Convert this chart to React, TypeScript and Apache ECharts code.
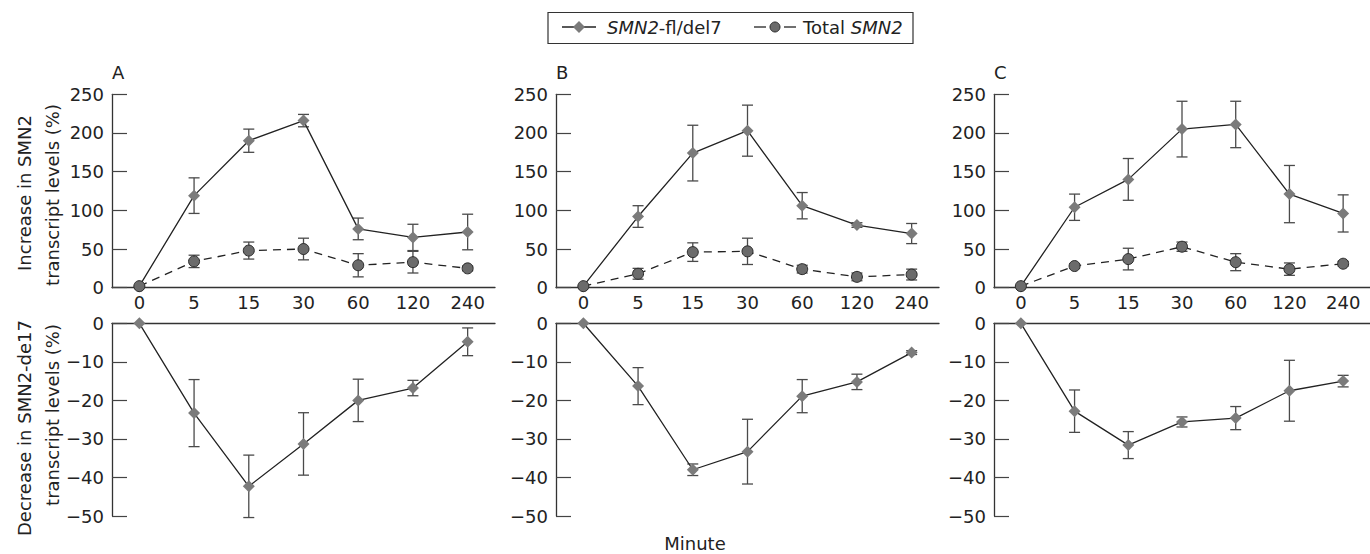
import React, { useEffect, useRef } from "react";
import * as echarts from "echarts";

const minutes = ["0", "5", "15", "30", "60", "120", "240"];

// Panel A
const flA = [2, 119, 190, 216, 76, 65, 72];
const flAErr = [0, 23, 15, 8, 14, 17, 23];
const totA = [2, 34, 48, 50, 29, 33, 25];
const totAErr = [0, 8, 11, 14, 15, 14, 3];
const delA = [0, -23.3, -42.3, -31.3, -20, -16.8, -4.8];
const delAErr = [0, 8.7, 8.1, 8.1, 5.5, 2, 3.6];

// Panel B
const flB = [2, 92, 174, 203, 106, 81, 70];
const flBErr = [0, 14, 36, 33, 17, 3, 13];
const totB = [2, 18, 46, 47, 24, 14, 17];
const totBErr = [0, 7, 12, 17, 5, 5, 7];
const delB = [0, -16.3, -38, -33.3, -18.9, -15.2, -7.6];
const delBErr = [0, 4.8, 1.5, 8.4, 4.3, 2, 0.5];

// Panel C
const flC = [2, 104, 140, 205, 211, 121, 96];
const flCErr = [0, 17, 27, 36, 30, 37, 24];
const totC = [2, 28, 37, 53, 33, 24, 31];
const totCErr = [0, 3, 14, 6, 11, 8, 3];
const delC = [0, -22.8, -31.6, -25.6, -24.6, -17.5, -15];
const delCErr = [0, 5.5, 3.5, 1.3, 3, 7.9, 1.5];

const panelLetters = ["A", "B", "C"];
const topYTicks = { min: 0, max: 250, interval: 50 };
const bottomYTicks = { min: -50, max: 0, interval: 10 };

const FONT = "DejaVu Sans";

export default function App() {
  const ref = useRef<HTMLDivElement>(null);

  useEffect(() => {
    if (!ref.current) return;
    const chart = echarts.init(ref.current, null, { renderer: "svg" });

    const lefts = [112, 556, 994];
    const W = 383;
    const panels = [
      { fl: flA, flE: flAErr, tot: totA, totE: totAErr, del: delA, delE: delAErr },
      { fl: flB, flE: flBErr, tot: totB, totE: totBErr, del: delB, delE: delBErr },
      { fl: flC, flE: flCErr, tot: totC, totE: totCErr, del: delC, delE: delCErr },
    ];

    const grids: any[] = [];
    const xAxes: any[] = [];
    const yAxes: any[] = [];
    const series: any[] = [];

    const axisLineStyle = { color: "#333", width: 1.3 };
    const tickStyle = { color: "#444", width: 1.2 };
    const labelStyle = { fontSize: 18, color: "#222", fontFamily: FONT };
    const fmt = (v: number) => (v < 0 ? "\u2212" + Math.abs(v) : String(v));

    const errSeries = (idx: number, vals: number[], errs: number[]) => ({
      type: "custom",
      xAxisIndex: idx,
      yAxisIndex: idx,
      z: 2,
      silent: true,
      clip: false,
      data: vals.map((v, i) => [i, v, errs[i]]),
      encode: { x: 0, y: 1 },
      renderItem: (params: any, api: any) => {
        const i = api.value(0);
        const v = api.value(1);
        const e = api.value(2);
        if (!e) return { type: "group", children: [] };
        const t = api.coord([i, v + e]);
        const b = api.coord([i, v - e]);
        const w = 5.5;
        const st = { stroke: "#4a4a4a", lineWidth: 1.3 };
        return {
          type: "group",
          children: [
            { type: "line", shape: { x1: t[0], y1: t[1], x2: b[0], y2: b[1] }, style: st },
            { type: "line", shape: { x1: t[0] - w, y1: t[1], x2: t[0] + w, y2: t[1] }, style: st },
            { type: "line", shape: { x1: b[0] - w, y1: b[1], x2: b[0] + w, y2: b[1] }, style: st },
          ],
        };
      },
    });

    const diamondLine = (idx: number, vals: number[]) => ({
      type: "line",
      xAxisIndex: idx,
      yAxisIndex: idx,
      data: vals,
      symbol: "diamond",
      symbolSize: 12,
      showAllSymbol: true,
      z: 3,
      lineStyle: { color: "#222", width: 1.3 },
      itemStyle: { color: "#7b7b7b", borderWidth: 0 },
    });

    const circleLine = (idx: number, vals: number[]) => ({
      type: "line",
      xAxisIndex: idx,
      yAxisIndex: idx,
      data: vals,
      symbol: "circle",
      symbolSize: 11,
      showAllSymbol: true,
      z: 4,
      lineStyle: { color: "#222", width: 1.3, type: [8, 6] },
      itemStyle: { color: "#6b6b6b", borderColor: "#2a2a2a", borderWidth: 1 },
    });

    panels.forEach((p, k) => {
      const ti = k * 2;
      const bi = k * 2 + 1;
      grids.push({ left: lefts[k], top: 94.3, width: W, height: 193.4 });
      grids.push({ left: lefts[k], top: 323.3, width: W, height: 192.7 });

      xAxes.push({
        type: "category",
        gridIndex: ti,
        data: minutes,
        boundaryGap: true,
        axisLine: { lineStyle: axisLineStyle },
        axisTick: { inside: true, length: 15, alignWithLabel: true, lineStyle: tickStyle },
        axisLabel: { ...labelStyle, margin: 6, interval: 0 },
        splitLine: { show: false },
      });
      xAxes.push({
        type: "category",
        gridIndex: bi,
        data: minutes,
        position: "top",
        boundaryGap: true,
        axisLine: { lineStyle: axisLineStyle },
        axisTick: { inside: true, length: 15, alignWithLabel: true, lineStyle: tickStyle },
        axisLabel: { show: false },
        splitLine: { show: false },
      });
      yAxes.push({
        type: "value",
        gridIndex: ti,
        ...topYTicks,
        axisLine: { show: true, lineStyle: axisLineStyle },
        axisTick: { show: true, inside: true, length: 15, lineStyle: tickStyle },
        axisLabel: { ...labelStyle, margin: 8, formatter: fmt },
        splitLine: { show: false },
      });
      yAxes.push({
        type: "value",
        gridIndex: bi,
        ...bottomYTicks,
        axisLine: { show: true, onZero: false, lineStyle: axisLineStyle },
        axisTick: { show: true, inside: true, length: 15, lineStyle: tickStyle },
        axisLabel: { ...labelStyle, margin: 8, formatter: fmt },
        splitLine: { show: false },
      });

      series.push(errSeries(ti, p.fl, p.flE));
      series.push(errSeries(ti, p.tot, p.totE));
      series.push(diamondLine(ti, p.fl));
      series.push(circleLine(ti, p.tot));
      series.push(errSeries(bi, p.del, p.delE));
      series.push(diamondLine(bi, p.del));
    });

    const txt = (text: string, x: number, y: number, extra: any = {}) => ({
      type: "text",
      x,
      y,
      ...extra,
      style: {
        text,
        fontSize: 18,
        fontFamily: FONT,
        fill: "#222",
        align: "left",
        verticalAlign: "middle",
        ...(extra.style || {}),
      },
    });

    const graphics: any[] = [];
    panelLetters.forEach((L, k) => graphics.push(txt(L, lefts[k], 72)));
    graphics.push(txt("Increase in SMN2", 24, 193, { rotation: Math.PI / 2, style: { align: "center" } }));
    graphics.push(txt("transcript levels (%)", 52, 195, { rotation: Math.PI / 2, style: { align: "center" } }));
    graphics.push(txt("Decrease in SMN2-de17", 24, 428, { rotation: Math.PI / 2, style: { align: "center" } }));
    graphics.push(txt("transcript levels (%)", 52, 415, { rotation: Math.PI / 2, style: { align: "center" } }));
    graphics.push(txt("Minute", 695, 543, { style: { align: "center" } }));

    // legend
    const ly = 27;
    graphics.push({
      type: "rect",
      shape: { x: 548, y: 12.5, width: 365, height: 31 },
      style: { fill: "#fff", stroke: "#333", lineWidth: 1.2 },
    });
    graphics.push({ type: "line", shape: { x1: 562, y1: ly, x2: 596, y2: ly }, style: { stroke: "#222", lineWidth: 1.3 } });
    graphics.push({
      type: "polygon",
      shape: { points: [[579, ly - 6], [585, ly], [579, ly + 6], [573, ly]] },
      style: { fill: "#7b7b7b" },
    });
    graphics.push({
      type: "text",
      x: 607,
      y: ly,
      style: {
        text: "{i|SMN2}-fl/del7",
        rich: { i: { fontStyle: "italic", fontSize: 18, fontFamily: FONT, fill: "#222" } },
        fontSize: 18,
        fontFamily: FONT,
        fill: "#222",
        align: "left",
        verticalAlign: "middle",
      },
    });
    graphics.push({ type: "line", shape: { x1: 754, y1: ly, x2: 766, y2: ly }, style: { stroke: "#222", lineWidth: 1.3 } });
    graphics.push({ type: "line", shape: { x1: 784, y1: ly, x2: 796, y2: ly }, style: { stroke: "#222", lineWidth: 1.3 } });
    graphics.push({
      type: "circle",
      shape: { cx: 775, cy: ly, r: 5 },
      style: { fill: "#6b6b6b", stroke: "#2a2a2a", lineWidth: 1 },
    });
    graphics.push({
      type: "text",
      x: 803,
      y: ly,
      style: {
        text: "Total {i|SMN2}",
        rich: { i: { fontStyle: "italic", fontSize: 18, fontFamily: FONT, fill: "#222" } },
        fontSize: 18,
        fontFamily: FONT,
        fill: "#222",
        align: "left",
        verticalAlign: "middle",
      },
    });

    chart.setOption({
      animation: false,
      backgroundColor: "#fff",
      textStyle: { fontFamily: FONT },
      grid: grids,
      xAxis: xAxes,
      yAxis: yAxes,
      series,
      graphic: graphics,
    });

    return () => chart.dispose();
  }, []);

  return (
    <div
      ref={ref}
      style={{ position: "absolute", left: 0, top: 0, width: 1370, height: 554, background: "#fff" }}
    />
  );
}
